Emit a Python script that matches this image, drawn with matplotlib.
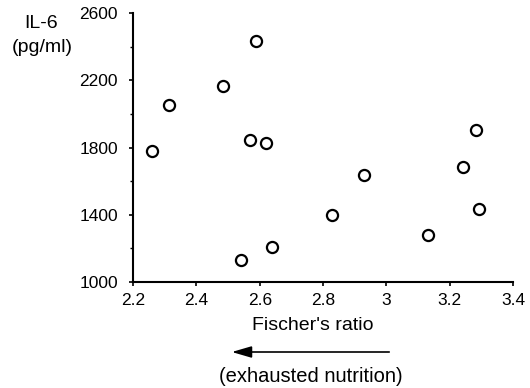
import matplotlib
matplotlib.use('Agg')
import matplotlib.pyplot as plt
from matplotlib.ticker import MultipleLocator

plt.rcParams['font.family'] = ['Liberation Sans', 'DejaVu Sans']

# Fischer's ratio vs IL-6
fischer = [2.26, 2.313, 2.483, 2.589, 2.569, 2.619, 2.540,
           2.638, 2.827, 2.928, 3.130, 3.243, 3.284, 3.292]
il6 = [1777, 2055, 2168, 2437, 1846, 1830, 1134,
       1209, 1402, 1636, 1279, 1687, 1904, 1436]

xticks = [2.2, 2.4, 2.6, 2.8, 3.0, 3.2, 3.4]
xtick_labels = ['2.2', '2.4', '2.6', '2.8', '3', '3.2', '3.4']
yticks = [1000, 1400, 1800, 2200, 2600]

fig = plt.figure(figsize=(5.3, 3.88), dpi=100)
ax = fig.add_axes([0.251, 0.273, 0.717, 0.693])

ax.plot(fischer, il6, 'o', mfc='white', mec='black', ms=8, mew=1.6, ls='none')

ax.set_xlim(2.2, 3.4)
ax.set_ylim(1000, 2600)
ax.set_xticks(xticks)
ax.set_xticklabels(xtick_labels)
ax.set_yticks(yticks)
ax.yaxis.set_minor_locator(MultipleLocator(200))
ax.spines['top'].set_visible(False)
ax.spines['right'].set_visible(False)
ax.spines['left'].set_linewidth(1.5)
ax.spines['bottom'].set_linewidth(1.5)
ax.tick_params(axis='both', which='major', labelsize=12.5, length=3, width=1.2)
ax.tick_params(axis='y', which='major', pad=8)
ax.tick_params(axis='x', which='major', pad=5)
ax.tick_params(axis='y', which='minor', length=2.5, width=1.0)

fig.text(41 / 530, 1 - 24 / 388, 'IL-6', fontsize=14, ha='center', va='center')
fig.text(42 / 530, 1 - 48 / 388, '(pg/ml)', fontsize=14, ha='center', va='center')

fig.text(313 / 530, 1 - 326 / 388, "Fischer's ratio", fontsize=14, ha='center', va='center')
fig.text(311 / 530, 1 - 376 / 388, '(exhausted nutrition)', fontsize=14.5, ha='center', va='center')

fig.patches.append(matplotlib.patches.FancyArrowPatch(
    (392 / 530, 1 - 352 / 388), (229 / 530, 1 - 352 / 388),
    transform=fig.transFigure, arrowstyle='-|>,head_length=12,head_width=3.5',
    color='black', lw=1.2, mutation_scale=1))

fig.savefig('out.png', dpi=100)
